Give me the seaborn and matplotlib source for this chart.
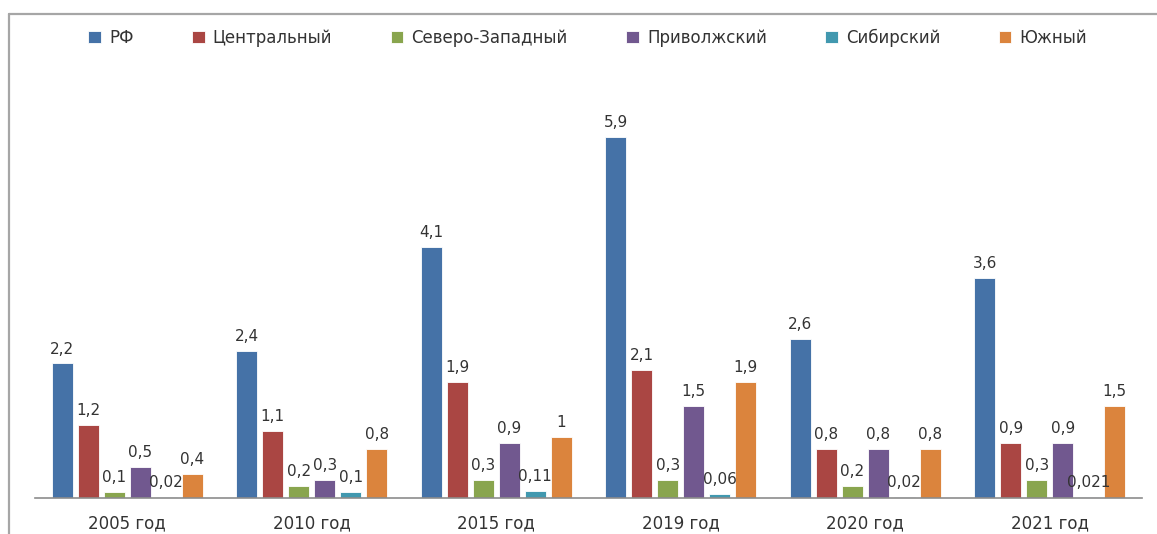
import matplotlib
matplotlib.use("Agg")
import matplotlib.pyplot as plt
from matplotlib.lines import Line2D
import seaborn as sns
import pandas as pd

# Data
years = ["2005 год", "2010 год", "2015 год", "2019 год", "2020 год", "2021 год"]
regions = ["РФ", "Центральный", "Северо-Западный", "Приволжский", "Сибирский", "Южный"]
rf = [2.2, 2.4, 4.1, 5.9, 2.6, 3.6]
central = [1.2, 1.1, 1.9, 2.1, 0.8, 0.9]
northwest = [0.1, 0.2, 0.3, 0.3, 0.2, 0.3]
volga = [0.5, 0.3, 0.9, 1.5, 0.8, 0.9]
siberia = [0.02, 0.1, 0.11, 0.06, 0.02, 0.021]
south = [0.4, 0.8, 1.0, 1.9, 0.8, 1.5]

series = [rf, central, northwest, volga, siberia, south]
colors = ["#4572A7", "#AA4643", "#89A54E", "#71588F", "#4198AF", "#DB843D"]

rows = []
for reg, vals in zip(regions, series):
    for yr, v in zip(years, vals):
        rows.append({"year": yr, "region": reg, "value": v})
df = pd.DataFrame(rows)

sns.set_theme(style="white")
plt.rcParams["font.family"] = ["DejaVu Sans"]
text_color = "#333333"

W, H = 1157, 534
fig = plt.figure(figsize=(W / 100, H / 100), dpi=100)
ax = fig.add_axes([35 / W, 36 / H, (1142 - 35) / W, (498 - 70) / H])

sns.barplot(data=df, x="year", y="value", hue="region", order=years,
            hue_order=regions, palette=colors, width=0.845, gap=0.2,
            edgecolor="white", linewidth=0.6, saturation=1, ax=ax,
            legend=True)

ax.set_ylim(0, 7)
ax.set_xlim(-0.5, 5.5)

# Value labels with decimal comma
for container, vals in zip(ax.containers, series):
    labels = [f"{v:g}".replace(".", ",") for v in vals]
    ax.bar_label(container, labels=labels, padding=5, fontsize=11,
                 color=text_color)

for side in ["top", "right", "left"]:
    ax.spines[side].set_visible(False)
ax.spines["bottom"].set_color("#8C8C8C")
ax.spines["bottom"].set_linewidth(1.2)
ax.set_yticks([])
ax.set_xlabel("")
ax.set_ylabel("")
ax.tick_params(axis="x", length=0, pad=12, labelsize=12, labelcolor=text_color)

# Legend across the top
handles, labels = ax.get_legend_handles_labels()
ax.legend_.remove()
fig.legend(handles, labels, loc="center", bbox_to_anchor=(0.508, 1 - 38 / H),
           ncol=6, frameon=False, fontsize=12, labelcolor=text_color,
           handlelength=0.75, handleheight=0.75, handletextpad=0.5,
           columnspacing=3.5)

# Chart frame (top and left edges)
fx = 9 / W
fy = 1 - 14 / H
fig.add_artist(Line2D([fx, 1.0], [fy, fy], color="#A6A6A6", linewidth=1.6,
                      transform=fig.transFigure))
fig.add_artist(Line2D([fx, fx], [0.0, fy], color="#A6A6A6", linewidth=1.6,
                      transform=fig.transFigure))

fig.savefig("out.png", dpi=100, facecolor="white")
